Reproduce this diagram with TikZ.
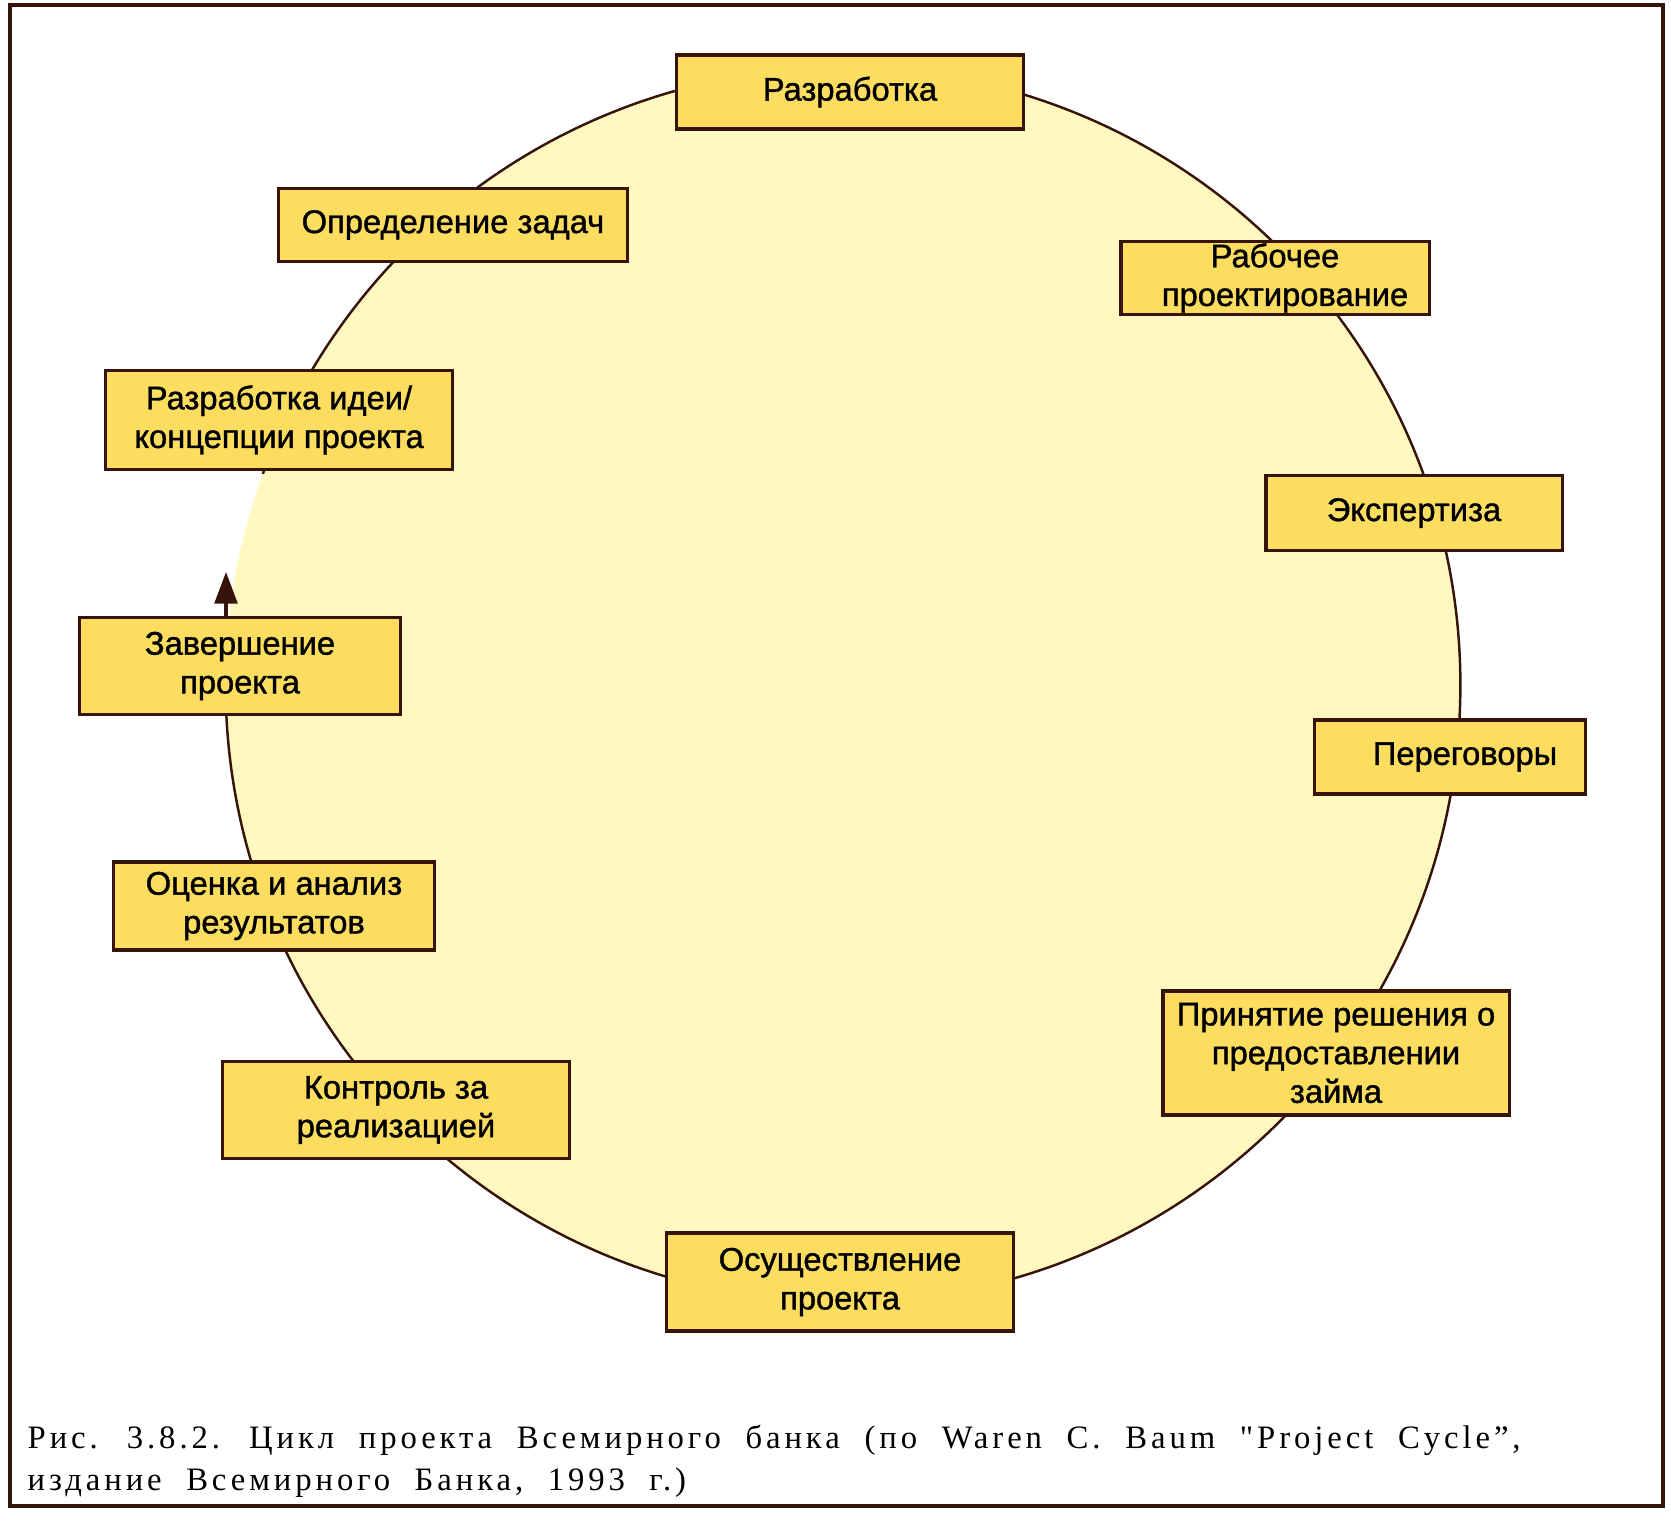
\documentclass[tikz,border=0pt]{standalone}
\usepackage{fontspec}
\setmainfont{Liberation Sans}
\newfontfamily\boxfont[FakeBold=1.2]{Liberation Sans}
\newfontfamily\capfont[LetterSpace=12]{Liberation Serif}
\newcommand\capsetup{\capfont\fontsize{9.3}{10.8}\selectfont\spaceskip=0.75em plus 1em minus 0.3em\relax}
\usetikzlibrary{arrows.meta}
\definecolor{boxyellow}{RGB}{252,221,96}
\definecolor{discyellow}{RGB}{255,248,192}
\definecolor{edgebrown}{RGB}{55,20,10}

\tikzset{
  stage/.style={draw=edgebrown, line width=0.9pt, fill=boxyellow, align=center,
    inner sep=0pt, font=\boxfont\fontsize{9.3}{11}\selectfont},
  rim/.style={draw=edgebrown, line width=0.7pt}
}

\begin{document}
\begin{tikzpicture}[x=0.01cm,y=-0.01cm]
            \useasboundingbox (0,0) rectangle (1671,1537);

            % Frame
            \draw[edgebrown, line width=0.9pt] (10,5) rectangle (1663,1506);

            % Circle
            \coordinate (hub) at (843,685);
            \fill[discyellow] (hub) circle (6.17cm);
            \draw[rim] ([shift={(180:6.17cm)}]hub) arc[start angle=180, end angle=520, radius=6.17cm];

            % Stages
            \node[stage, minimum width=3.46cm, minimum height=0.74cm] (razrab) at (850,92) {Разработка};
            \node[stage, minimum width=3.08cm, minimum height=0.73cm] (rabproj) at (1275,278) {Рабочее\\\hspace*{0.2cm}проектирование};
            \node[stage, minimum width=2.96cm, minimum height=0.75cm] (ekspert) at (1414,513) {Экспертиза};
            \node[stage, minimum width=2.71cm, minimum height=0.74cm] (peregov) at (1450,757) {\hspace*{0.3cm}Переговоры};
            \node[stage, minimum width=3.46cm, minimum height=1.24cm] (zaim) at (1336,1053) {Принятие решения о\\предоставлении\\займа};
            \node[stage, minimum width=3.46cm, minimum height=0.98cm] (osush) at (840,1282) {Осуществление\\проекта};
            \node[stage, minimum width=3.46cm, minimum height=0.97cm] (kontrol) at (396,1110) {Контроль за\\реализацией};
            \node[stage, minimum width=3.21cm, minimum height=0.88cm] (ocenka) at (274,906) {Оценка и анализ\\результатов};
            \node[stage, minimum width=3.20cm, minimum height=0.97cm] (zaversh) at (240,666) {Завершение\\проекта};
            \node[stage, minimum width=3.46cm, minimum height=0.99cm] (ideya) at (279,420) {Разработка идеи/\\концепции проекта};
            \node[stage, minimum width=3.48cm, minimum height=0.73cm] (zadachi) at (453,225) {Определение задач};

            % Arrow
            \coordinate (tip) at (226,572);
            \draw[edgebrown, line width=0.9pt, -{Triangle[length=9pt,width=6.5pt]}] (zaversh.north -| tip) -- (tip);

            % Caption
            \node[anchor=base west, text width=14.92cm, align=justify, inner sep=0pt] (caption) at (27,1448)
                {\capsetup Рис. 3.8.2. Цикл проекта Всемирного банка (по Waren C. Baum "Project Cycle”,\linebreak
                 издание Всемирного Банка, 1993 г.)};
\end{tikzpicture}
\end{document}
